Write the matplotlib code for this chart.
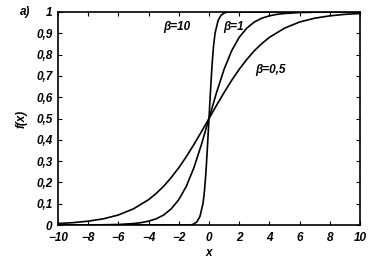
import matplotlib
matplotlib.use("Agg")
import matplotlib.pyplot as plt

plt.rcParams['font.family'] = ['Liberation Sans', 'DejaVu Sans']

# values
x_b05 = [-10, -9, -8, -7, -6, -5, -4, -3.5, -3, -2.5, -2, -1.5, -1, -0.5, 0,
         0.5, 1, 1.5, 2, 2.5, 3, 3.5, 4, 5, 6, 7, 8, 9, 10]
y_b05 = [0.007, 0.011, 0.018, 0.029, 0.047, 0.076, 0.119, 0.148, 0.182, 0.223, 0.269, 0.321, 0.378, 0.438, 0.5,
         0.562, 0.622, 0.679, 0.731, 0.777, 0.818, 0.852, 0.881, 0.924, 0.953, 0.971, 0.982, 0.989, 0.993]

x_b1 = [-10, -8, -7, -6, -5, -4.5, -4, -3.5, -3, -2.5, -2, -1.5, -1, -0.5, 0,
        0.5, 1, 1.5, 2, 2.5, 3, 3.5, 4, 4.5, 5, 6, 7, 8, 10]
y_b1 = [0.0, 0.0005, 0.001, 0.0025, 0.0067, 0.011, 0.018, 0.029, 0.047, 0.076, 0.119, 0.182, 0.269, 0.378, 0.5,
        0.622, 0.731, 0.818, 0.881, 0.924, 0.953, 0.971, 0.982, 0.989, 0.993, 0.9975, 0.999, 0.9995, 1.0]

x_b10 = [-10, -1.2, -1.0, -0.8, -0.6, -0.4, -0.3, -0.2, -0.1, 0,
         0.1, 0.2, 0.3, 0.4, 0.6, 0.8, 1.0, 1.2, 10]
y_b10 = [0.0, 0.0, 0.005, 0.015, 0.04, 0.1, 0.16, 0.25, 0.37, 0.5,
         0.63, 0.75, 0.84, 0.9, 0.96, 0.985, 0.995, 1.0, 1.0]

x_ticks = [-10, -8, -6, -4, -2, 0, 2, 4, 6, 8, 10]
y_ticks = [0, 0.1, 0.2, 0.3, 0.4, 0.5, 0.6, 0.7, 0.8, 0.9, 1]
y_tick_labels = ['0', '0,1', '0,2', '0,3', '0,4', '0,5', '0,6', '0,7', '0,8', '0,9', '1']
x_tick_labels = ['\u221210', '\u22128', '\u22126', '\u22124', '\u22122', '0', '2', '4', '6', '8', '10']

fig = plt.figure(figsize=(3.69, 2.61), dpi=100)
ax = fig.add_axes([58/369, 1-225/261, (360-58)/369, (225-12)/261])

lw = 1.2
ax.plot(x_b05, y_b05, color='black', lw=lw)
ax.plot(x_b1, y_b1, color='black', lw=lw)
ax.plot(x_b10, y_b10, color='black', lw=lw)

ax.set_xlim(-10, 10)
ax.set_ylim(0, 1)
ax.set_xticks(x_ticks)
ax.set_xticklabels(x_tick_labels)
ax.set_yticks(y_ticks)
ax.set_yticklabels(y_tick_labels)

fs = 8.5
ax.tick_params(direction='in', length=3, width=0.8, top=True, right=True, labelsize=fs)
ax.tick_params(axis='x', pad=5)
ax.tick_params(axis='y', pad=4)
for lab in ax.get_xticklabels() + ax.get_yticklabels():
    lab.set_fontweight('bold')
    lab.set_fontstyle('italic')
for s in ax.spines.values():
    s.set_linewidth(1.2)

tkw = dict(fontsize=fs, fontweight='bold', fontstyle='italic')
ax.text(-2.1, 0.93, '\u03b2=10', ha='center', va='center', **tkw)
ax.text(1.6, 0.93, '\u03b2=1', ha='center', va='center', **tkw)
ax.text(4.1, 0.73, '\u03b2=0,5', ha='center', va='center', **tkw)

ax.set_xlabel('x', fontsize=fs, fontweight='bold', fontstyle='italic', labelpad=2)
ax.set_ylabel('f(x)', fontsize=fs, fontweight='bold', fontstyle='italic', labelpad=6)

fig.text(20/369, 1-12/261, 'a)', ha='left', va='center', **tkw)

fig.savefig('out.png', dpi=100)
